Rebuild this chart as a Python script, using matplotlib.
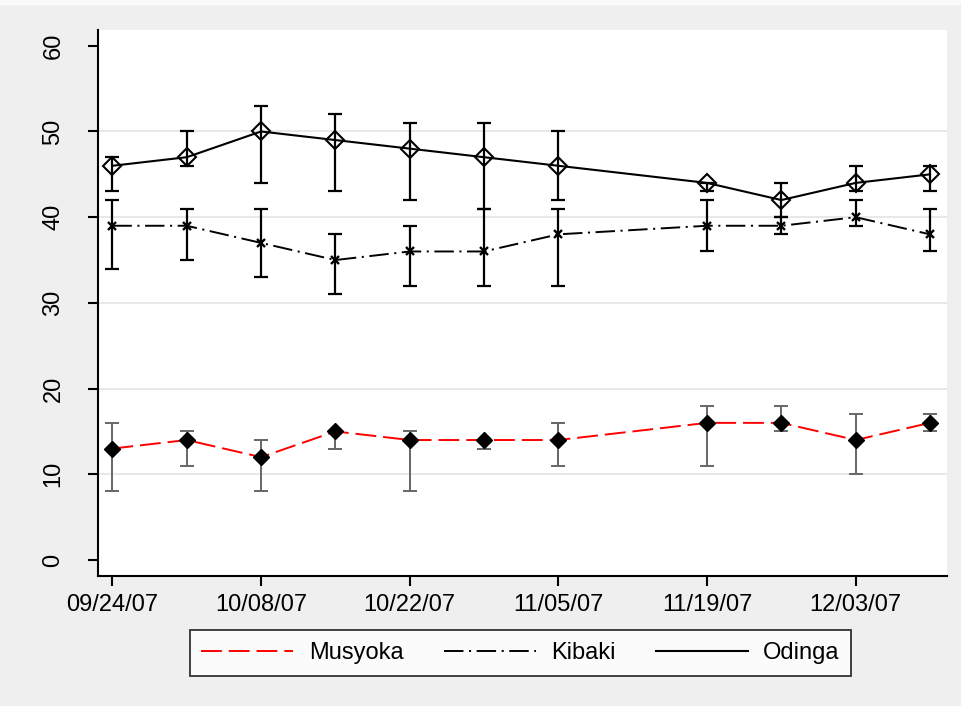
import matplotlib
matplotlib.use("Agg")
import matplotlib.pyplot as plt
import matplotlib.dates as mdates
from matplotlib.patches import Rectangle
import numpy as np
from datetime import datetime, timedelta

plt.rcParams['font.family'] = ['Liberation Sans', 'DejaVu Sans']
plt.rcParams['lines.scale_dashes'] = False

# Poll dates (weekly, one week missing)
dates = ["2007-09-24", "2007-10-01", "2007-10-08", "2007-10-15", "2007-10-22",
         "2007-10-29", "2007-11-05", "2007-11-19", "2007-11-26", "2007-12-03",
         "2007-12-10"]

# Odinga: estimate with low / high range
odinga = [46, 47, 50, 49, 48, 47, 46, 44, 42, 44, 45]
odinga_lo = [43, 46, 44, 43, 42, 41, 42, 43, 40, 43, 43]
odinga_hi = [47, 50, 53, 52, 51, 51, 50, 44, 44, 46, 46]

# Kibaki
kibaki = [39, 39, 37, 35, 36, 36, 38, 39, 39, 40, 38]
kibaki_lo = [34, 35, 33, 31, 32, 32, 32, 36, 38, 39, 36]
kibaki_hi = [42, 41, 41, 38, 39, 41, 41, 42, 40, 42, 41]

# Musyoka
musyoka = [13, 14, 12, 15, 14, 14, 14, 16, 16, 14, 16]
musyoka_lo = [8, 11, 8, 13, 8, 13, 11, 11, 15, 10, 15]
musyoka_hi = [16, 15, 14, 15, 15, 14, 16, 18, 18, 17, 17]

tick_dates = ["2007-09-24", "2007-10-08", "2007-10-22", "2007-11-05",
              "2007-11-19", "2007-12-03"]
y_ticks = [0, 10, 20, 30, 40, 50, 60]

x = [datetime.strptime(d, "%Y-%m-%d") for d in dates]
xt = [datetime.strptime(d, "%Y-%m-%d") for d in tick_dates]

bg = "#efefef"
fig = plt.figure(figsize=(9.61, 7.06), dpi=100, facecolor=bg)
# thin light band along the top edge of the graph region
fig.patches.append(Rectangle((0, 1 - 4 / 706), 1, 4 / 706,
                             transform=fig.transFigure, color="#fafafa",
                             zorder=0))
ax = fig.add_axes([0.1017, 0.1846, 0.8834, 0.7736])
ax.set_facecolor("white")


def yerr(v, lo, hi):
    v = np.asarray(v)
    return np.vstack([v - np.asarray(lo), np.asarray(hi) - v])


# horizontal grid
for g in [10, 20, 30, 40, 50]:
    ax.axhline(g, color="#e6e6e6", lw=1.3, zorder=0)

# error ranges
ax.errorbar(x, odinga, yerr=yerr(odinga, odinga_lo, odinga_hi), fmt="none",
            ecolor="black", elinewidth=1.6, capsize=5, capthick=1.6, zorder=2)
ax.errorbar(x, kibaki, yerr=yerr(kibaki, kibaki_lo, kibaki_hi), fmt="none",
            ecolor="black", elinewidth=1.6, capsize=5, capthick=1.6, zorder=2)
ax.errorbar(x, musyoka, yerr=yerr(musyoka, musyoka_lo, musyoka_hi), fmt="none",
            ecolor="#666666", elinewidth=1.4, capsize=5, capthick=1.4, zorder=2)

# series lines
l_mus, = ax.plot(x, musyoka, color="red", lw=1.4, dashes=(15, 5), zorder=3,
                 label="Musyoka")
ax.plot(x, musyoka, ls="none", marker="D", ms=8.5, mfc="black", mec="black",
        zorder=4)
l_kib, = ax.plot(x, kibaki, color="black", lw=1.4, dashes=(14, 4, 1.5, 4),
                 marker="x", ms=6, mew=1.7, zorder=3, label="Kibaki")
l_odi, = ax.plot(x, odinga, color="black", lw=1.5, marker="D", ms=9,
                 mfc="none", mec="black", mew=1.5, zorder=3, label="Odinga")

# axes
x0 = datetime(2007, 9, 24)
ax.set_xlim(x0 - timedelta(days=1.38), x0 + timedelta(days=78.57))
ax.set_ylim(-1.83, 61.9)
ax.set_xticks(xt)
ax.xaxis.set_major_formatter(mdates.DateFormatter("%m/%d/%y"))
ax.set_yticks(y_ticks)

for s in ["top", "right"]:
    ax.spines[s].set_visible(False)
for s in ["left", "bottom"]:
    ax.spines[s].set_linewidth(1.5)

ax.tick_params(axis="both", direction="out", length=7, width=1.5,
               labelsize=17, colors="black")
ax.tick_params(axis="x", pad=6)
ax.tick_params(axis="y", pad=17)
for t in ax.get_yticklabels():
    t.set_rotation(90)
    t.set_va("center")

# legend
leg = fig.legend(handles=[l_mus, l_kib, l_odi],
                 labels=["Musyoka", "Kibaki", "Odinga"],
                 loc="center", bbox_to_anchor=(0.5416, 0.0751),
                 bbox_transform=fig.transFigure, ncol=3, fontsize=17,
                 frameon=True, fancybox=False, edgecolor="black",
                 handlelength=3.9, columnspacing=1.7, handletextpad=0.65,
                 borderpad=0.5)
leg.get_frame().set_linewidth(1.3)
# legend handles without markers
for h in leg.legend_handles:
    h.set_marker("None")

fig.savefig("out.png", dpi=100, facecolor=bg)
